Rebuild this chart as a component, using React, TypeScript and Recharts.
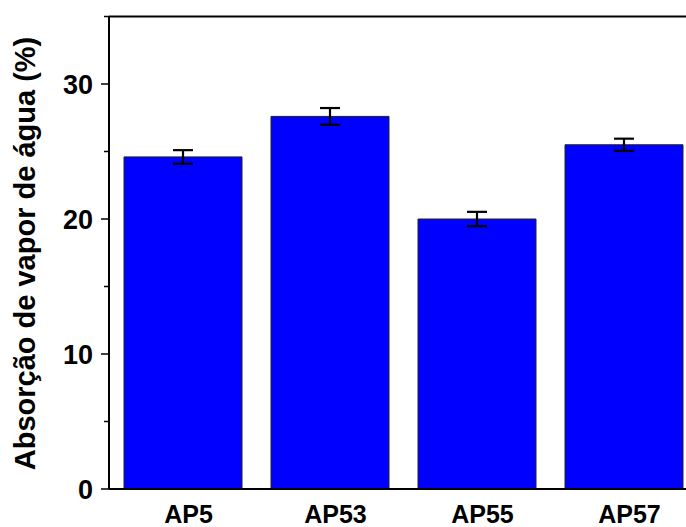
import { BarChart, Bar, XAxis, YAxis, ErrorBar, ReferenceLine } from "recharts";

const samples = ["AP5", "AP53", "AP55", "AP57"];
const absorption = [24.6, 27.6, 20.0, 25.5];
const deviation = [0.5, 0.62, 0.53, 0.45];
const yTicks = [0, 5, 10, 15, 20, 25, 30, 35];

const data = samples.map((name, i) => ({
  name,
  value: absorption[i],
  err: deviation[i],
}));

const FONT = "'Liberation Sans', Arial, sans-serif";

// recharts hands the tick the label anchor (axis - tickSize - tickMargin), so shift back to the axis
function YTick(props: any) {
  const { x, y, payload } = props;
  const ax = x + 8;
  const major = payload.value % 10 === 0 && payload.value !== 35;
  return (
    <g>
      <line x1={ax - (major ? 8 : 5)} y1={y} x2={ax} y2={y} stroke="#000" strokeWidth={1.5} />
      {major && (
        <text x={ax - 16} y={y} dy="0.36em" textAnchor="end" fontFamily={FONT} fontWeight="bold" fontSize={27} fill="#000">
          {payload.value}
        </text>
      )}
    </g>
  );
}

function XTick(props: any) {
  const { x, y, payload } = props;
  return (
    <text x={x + 6} y={y} dy={26} textAnchor="middle" fontFamily={FONT} fontWeight="bold" fontSize={25} fill="#000">
      {payload.value}
    </text>
  );
}

function YLabel() {
  return (
    <text
      x={35}
      y={253.5}
      transform="rotate(-90, 35, 253.5)"
      textAnchor="middle"
      fontFamily={FONT}
      fontWeight="bold"
      fontSize={29}
      fill="#000"
    >
      Absorção de vapor de água (%)
    </text>
  );
}

export default function App() {
  return (
    <div style={{ position: "absolute", left: 0, top: 0, width: 686, height: 527, overflow: "hidden", background: "#fff" }}>
      <BarChart width={700} height={527} data={data} margin={{ top: 16.5, right: 3, left: 0, bottom: 0 }}>
        <XAxis
          dataKey="name"
          height={38}
          tickLine={false}
          axisLine={{ stroke: "#000", strokeWidth: 2 }}
          tick={<XTick />}
          interval={0}
        />
        <YAxis
          width={109}
          domain={[0, 35]}
          ticks={yTicks}
          interval={0}
          tickLine={false}
          axisLine={{ stroke: "#000", strokeWidth: 2 }}
          tick={<YTick />}
          label={<YLabel />}
        />
        <ReferenceLine y={35} stroke="#000" strokeWidth={2} />
        <Bar dataKey="value" fill="#0000ff" stroke="#222" strokeWidth={1} barSize={118} isAnimationActive={false}>
          <ErrorBar dataKey="err" direction="y" width={10} stroke="#000" strokeWidth={2.2} />
        </Bar>
      </BarChart>
    </div>
  );
}
